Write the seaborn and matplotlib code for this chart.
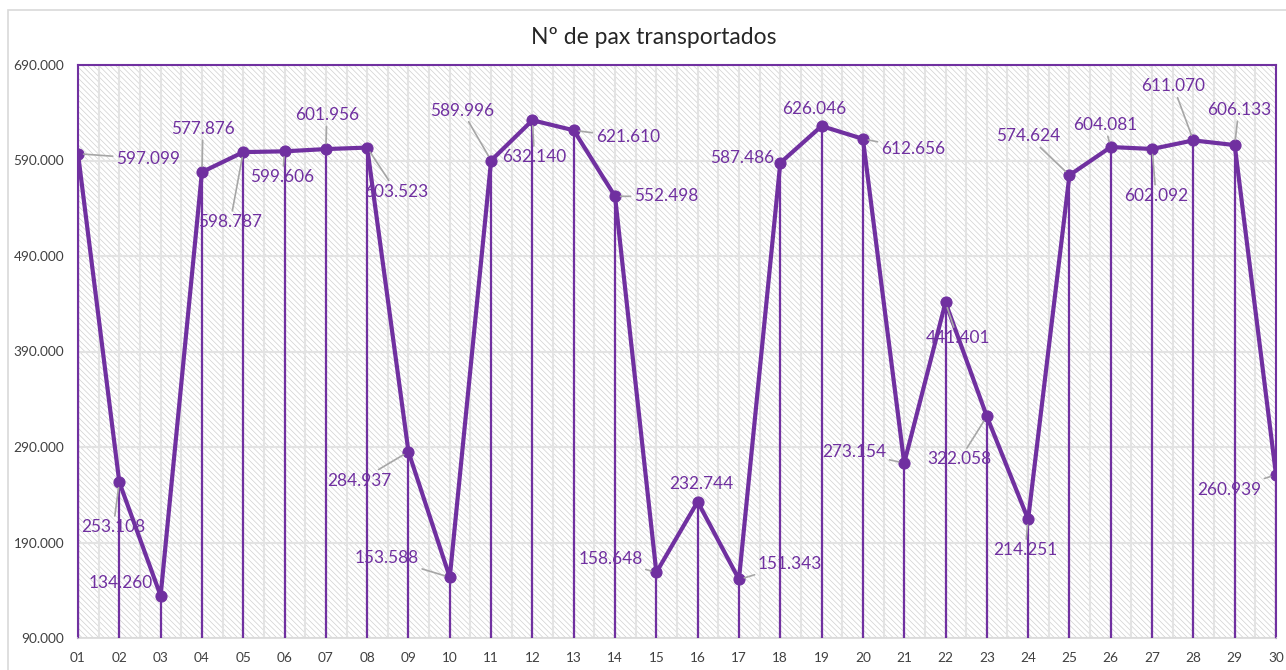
import numpy as np
import pandas as pd
import seaborn as sns
import matplotlib.pyplot as plt
from matplotlib.patches import Rectangle
from matplotlib.ticker import FuncFormatter, MultipleLocator

days = ["01", "02", "03", "04", "05", "06", "07", "08", "09", "10",
        "11", "12", "13", "14", "15", "16", "17", "18", "19", "20",
        "21", "22", "23", "24", "25", "26", "27", "28", "29", "30"]
pax = [597099, 253108, 134260, 577876, 598787, 599606, 601956, 603523, 284937, 153588,
       589996, 632140, 621610, 552498, 158648, 232744, 151343, 587486, 626046, 612656,
       273154, 441401, 322058, 214251, 574624, 604081, 602092, 611070, 606133, 260939]
y_ticks = [90000, 190000, 290000, 390000, 490000, 590000, 690000]
title = "Nº de pax transportados"

# label placement (pixels from the point), and whether a leader line is drawn
label_offsets = [(70, -5), (-6, -45), (-40, 13), (1, 43), (-13, -70), (-2, -26), (1, 34), (29, -44),
                 (-49, -29), (-63, 19), (-29, 50), (2, -37), (54, -7), (51, 0), (-46, 13), (4, 18),
                 (51, 15), (-38, 5), (-7, 17), (50, -10), (-50, 11), (12, -36), (-27, -43), (-3, -31),
                 (-41, 39), (-6, 22), (4, -47), (-20, 54), (4, 35), (-47, -15)]
no_leader = {"03", "16", "18", "19"}

purple = "#7030A0"
grid_c = "#e3e3e3"

sns.set_style("white")
plt.rcParams["font.family"] = ["Lato", "DejaVu Sans"]
plt.rcParams["hatch.linewidth"] = 0.5

df = pd.DataFrame({"day": days, "pax": pax})
pos = np.arange(len(days))

fig = plt.figure(figsize=(12.86, 6.70), dpi=100)
ax = fig.add_axes([78 / 1286, 32 / 670, 1198 / 1286, 573 / 670])

# outer chart frame
fig.patches.append(Rectangle((8 / 1286, -0.05), 1.2, 1 - 10 / 670 + 0.05, transform=fig.transFigure,
                             facecolor="none", edgecolor="#d9d9d9", lw=1.2))

# hatched plot area
ax.add_patch(Rectangle((0, 0), 1, 1, transform=ax.transAxes, facecolor="white",
                       edgecolor="#d0d0d0", hatch="\\" * 6, lw=0, zorder=0))

ax.vlines(pos, y_ticks[0], df["pax"], color=purple, lw=1.6, zorder=3)
sns.lineplot(data=df, x="day", y="pax", ax=ax, color=purple, lw=3, marker="o",
             markersize=8, markeredgecolor=purple, zorder=5, sort=False)

for i, (d, v) in enumerate(zip(days, pax)):
    dx, dy = label_offsets[i]
    lbl = f"{v:,}".replace(",", ".")
    arrow = None if d in no_leader else dict(arrowstyle="-", color="#a6a6a6", lw=1.2,
                                              shrinkA=0, shrinkB=4)
    ax.annotate(lbl, xy=(i, v), xytext=(dx, dy), textcoords="offset pixels",
                ha="center", va="center", fontsize=12.4, color=purple,
                arrowprops=arrow, zorder=6, annotation_clip=False)

ax.set_xlim(0, len(days) - 1)
ax.set_ylim(y_ticks[0], y_ticks[-1])
ax.set_yticks(y_ticks)
ax.yaxis.set_major_formatter(FuncFormatter(lambda v, _: f"{v:,.0f}".replace(",", ".")))
ax.set_xticks(pos)
ax.set_xticklabels(days)
ax.xaxis.set_minor_locator(MultipleLocator(0.5))
ax.set_axisbelow(True)
ax.grid(axis="y", which="major", color=grid_c, lw=1.5)
ax.grid(axis="x", which="both", color=grid_c, lw=1.5)
ax.tick_params(axis="both", which="both", length=0, labelsize=9.8, colors="#404040")
ax.tick_params(axis="y", pad=10)
ax.tick_params(axis="x", pad=10)
ax.set_xlabel("")
ax.set_ylabel("")

for side in ["left", "top", "right"]:
    ax.spines[side].set_color(purple)
    ax.spines[side].set_linewidth(1.5)
ax.spines["bottom"].set_color("#d9d9d9")
ax.spines["bottom"].set_linewidth(1.2)

fig.text(654 / 1286, 1 - 38 / 670, title, ha="center", va="center", fontsize=16.5, color="#262626")

fig.savefig("out.png", dpi=100)
